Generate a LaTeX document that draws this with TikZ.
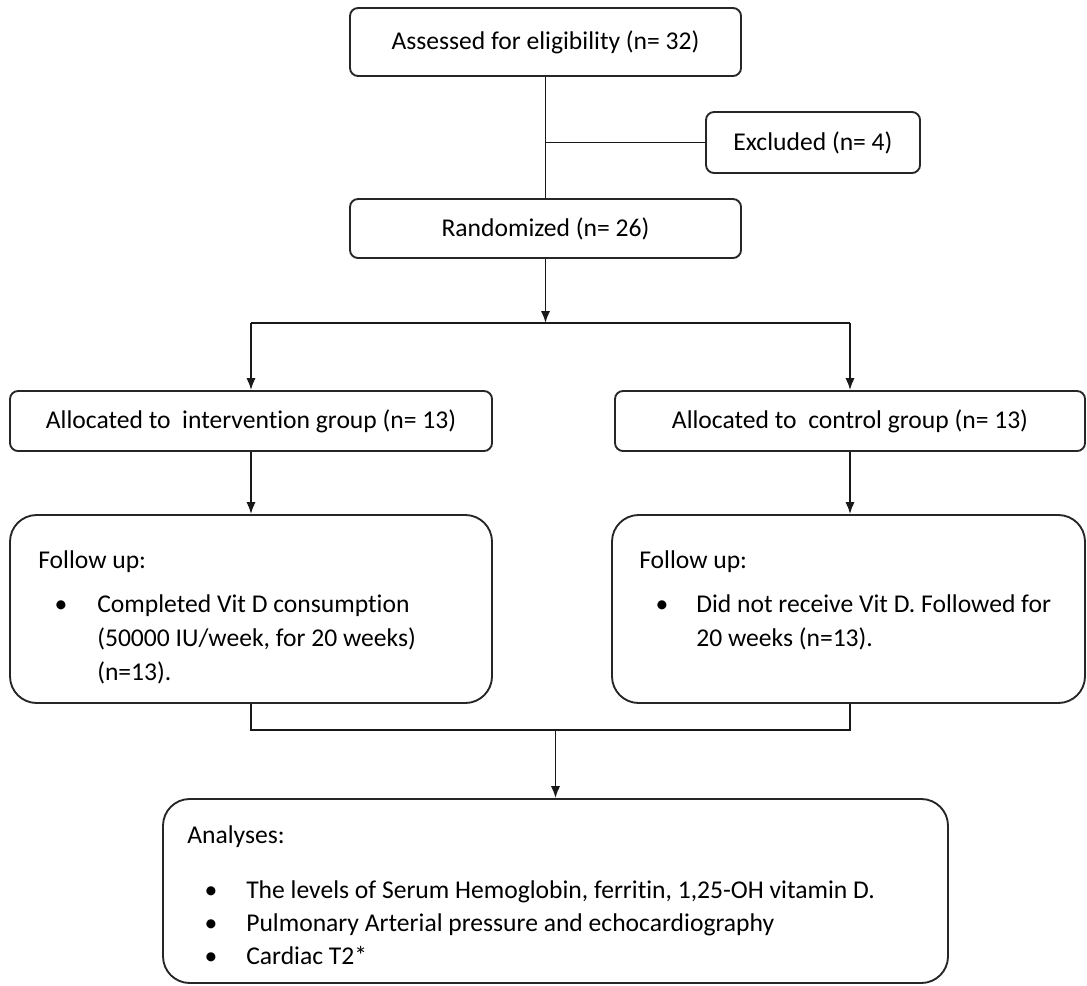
\documentclass[tikz,border=0pt]{standalone}
\usepackage{fontspec}
\setmainfont[Ligatures=NoCommon]{Carlito}
\usetikzlibrary{arrows.meta}
\begin{document}
\begin{tikzpicture}[x=0.75pt,y=-0.75pt,
  box/.style={draw=black!85, line width=1.4pt, rounded corners=6pt, inner sep=0pt, align=center, font=\fontsize{19.2}{24}\selectfont},
  bigbox/.style={box, rounded corners=20pt},
  conn/.style={draw=black!90, line width=1.4pt},
  arr/.style={conn, -{Latex[length=9pt,width=7pt]}},
  txt/.style={inner sep=0pt, anchor=base west, font=\fontsize{19.2}{24}\selectfont},
  bul/.style={inner sep=0pt, anchor=base, font=\fontsize{19.2}{24}\selectfont}]
\useasboundingbox (0,0) rectangle (1087,985);

\node[box, minimum width=293.25pt, minimum height=51pt] (a) at (545.5,42) {Assessed for eligibility (n= 32)};
\node[box, minimum width=160.5pt, minimum height=45.75pt] (ex) at (813,142.5) {Excluded (n= 4)};
\node[box, minimum width=293.25pt, minimum height=44.25pt] (r) at (545.5,228.5) {Randomized (n= 26)};
\node[box, minimum width=361.5pt, minimum height=45pt] (al) at (251,421) {Allocated to\ \ intervention group (n= 13)};
\node[box, minimum width=352.5pt, minimum height=45pt] (ar) at (850,421) {Allocated to\ \ control group (n= 13)};
\node[bigbox, minimum width=361.5pt, minimum height=141pt] (fl) at (251,609) {};
\node[bigbox, minimum width=354.75pt, minimum height=141pt] (fr) at (848.5,609) {};
\node[bigbox, minimum width=588.75pt, minimum height=138pt] (an) at (555.5,891) {};

% follow up left
\node[txt] (flt) at (38,568) {Follow up:};
\node[bul] (flb) at (61,612) {•};
\node[txt] (fl1) at (97,612) {Completed Vit D consumption};
\node[txt] (fl2) at (97,646) {(50000 IU/week, for 20 weeks)};
\node[txt] (fl3) at (97,680) {(n=13).};
% follow up right
\node[txt] (frt) at (639,568) {Follow up:};
\node[bul] (frb) at (662,612) {•};
\node[txt] (fr1) at (696,612) {Did not receive Vit D. Followed for};
\node[txt] (fr2) at (696,646) {20 weeks (n=13).};
% analyses
\node[txt] (ant) at (187,843) {Analyses:};
\node[bul] (anb1) at (211,898) {•};
\node[txt] (an1) at (246,898) {The levels of Serum Hemoglobin, ferritin, 1,25-OH vitamin D.};
\node[bul] (anb2) at (211,931) {•};
\node[txt] (an2) at (246,931) {Pulmonary Arterial pressure and echocardiography};
\node[bul] (anb3) at (211,964) {•};
\node[txt] (an3) at (246,964) {Cardiac T2*};

% connectors
\draw[conn] (a.south) -- (r.north);
\draw[conn] (ex.west) -- (ex.west -| a.south);
\coordinate (split) at (545.5,323);
\draw[arr] (r.south) -- (split);
\draw[conn] (split -| al.north) -- (split -| ar.north);
\draw[arr] (split -| al.north) -- (al.north);
\draw[arr] (split -| ar.north) -- (ar.north);
\draw[arr] (al.south) -- (al.south |- fl.north);
\draw[arr] (ar.south) -- (ar.south |- fr.north);
\coordinate (join) at (555.5,730);
\draw[conn] (fl.south) -- (fl.south |- join) -- (join -| ar.south) -- (ar.south |- fr.south);
\draw[arr] (join) -- (an.north);
\end{tikzpicture}
\end{document}
